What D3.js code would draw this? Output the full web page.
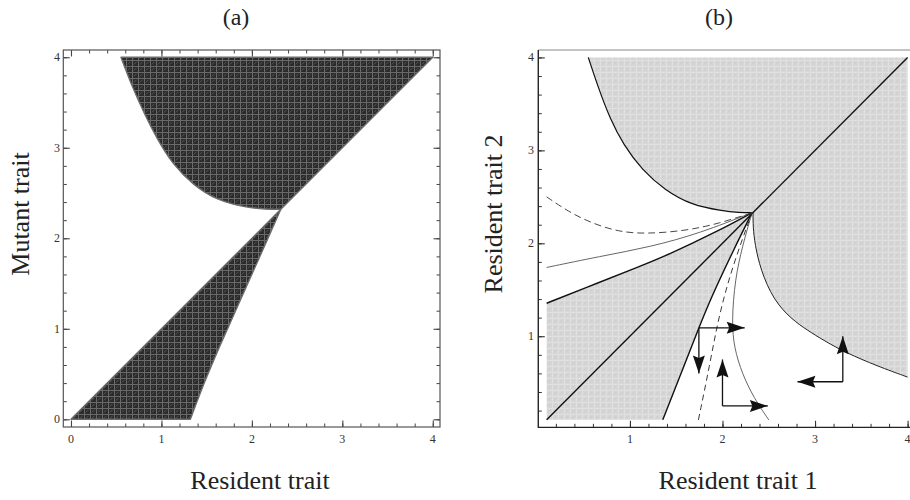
<!DOCTYPE html>
<html>
<head>
<meta charset="utf-8">
<script src="https://cdn.jsdelivr.net/npm/d3@7"></script>
<style>
  body { margin: 0; background: #fff; }
  svg { display: block; font-family: "Liberation Serif", "DejaVu Serif", serif; }
</style>
</head>
<body>
<div id="chart"></div>
<script>
// tick labels
const ticksA = [0, 1, 2, 3, 4];
const ticksB = [1, 2, 3, 4];

// (a) pairwise invasibility plot
const upperEdgeA = [[0.553, 4.0], [0.67, 3.69], [0.80, 3.40], [0.95, 3.10], [1.13, 2.81], [1.35, 2.59], [1.61, 2.42], [1.94, 2.34], [2.15, 2.32], [2.32, 2.32]];
const lowerEdgeA = [[1.32, 0], [1.47, 0.40], [1.64, 0.80], [1.82, 1.20], [2.00, 1.60], [2.16, 1.96], [2.32, 2.32]];

// (b) trait evolution plot
const upperEdgeB = [[0.55, 4.0], [0.66, 3.67], [0.785, 3.34], [0.93, 3.06], [1.13, 2.79], [1.38, 2.57], [1.67, 2.41], [1.99, 2.35], [2.18, 2.33], [2.33, 2.33]];
const rightEdgeB = [[2.33, 2.33], [2.33, 2.18], [2.35, 1.99], [2.41, 1.72], [2.55, 1.39], [2.75, 1.18], [2.91, 1.07], [3.10, 0.95], [3.34, 0.82], [3.67, 0.68], [4.0, 0.56]];
const sepLeftB = [[0.1, 1.355], [0.67, 1.58], [1.09, 1.745], [1.40, 1.87], [1.94, 2.125], [2.32, 2.33]];
const sepLowerB = [[1.355, 0.1], [1.58, 0.67], [1.745, 1.09], [1.87, 1.40], [2.125, 1.94], [2.32, 2.33]];
const diagB = [[0.1, 0.1], [4, 4]];
const thinLeftB = [[0.1, 1.74], [0.68, 1.86], [1.22, 1.96], [1.76, 2.11], [2.32, 2.33]];
const thinRightB = [[2.50, 0.1], [2.34, 0.335], [2.215, 0.59], [2.125, 0.875], [2.10, 1.16], [2.135, 1.61], [2.215, 1.97], [2.32, 2.33]];
const dashLeftB = [[0.1, 2.50], [0.335, 2.34], [0.59, 2.215], [0.875, 2.125], [1.16, 2.10], [1.61, 2.135], [1.97, 2.215], [2.32, 2.33]];
const dashLowerB = [[1.74, 0.1], [1.86, 0.68], [1.96, 1.22], [2.11, 1.76], [2.32, 2.33]];
// arrow pairs: corner, then the two arrow tips
const arrowCorners = [[1.745, 1.09], [2.0, 0.25], [3.30, 0.51]];
const arrowTipsH = [[2.24, 1.09], [2.49, 0.25], [2.81, 0.51]];
const arrowTipsV = [[1.745, 0.60], [2.0, 0.75], [3.30, 1.0]];

const W = 910, H = 500;
const svg = d3.select('#chart').append('svg').attr('width', W).attr('height', H);
const defs = svg.append('defs');

// dark texture for (a)
const pa = defs.append('pattern').attr('id', 'darkTex')
  .attr('width', 6).attr('height', 6).attr('patternUnits', 'userSpaceOnUse');
pa.append('rect').attr('width', 6).attr('height', 6).attr('fill', '#2b2b2b');
pa.append('path').attr('d', 'M0,0.5H6M0.5,0V6').attr('stroke', '#6a6a6a').attr('stroke-width', 1);
pa.append('path').attr('d', 'M1.8,4.5L4.5,1.8').attr('stroke', '#555').attr('stroke-width', 1);

// light texture for (b)
const pb = defs.append('pattern').attr('id', 'lightTex')
  .attr('width', 6).attr('height', 6).attr('patternUnits', 'userSpaceOnUse');
pb.append('rect').attr('width', 6).attr('height', 6).attr('fill', '#d6d6d6');
pb.append('path').attr('d', 'M0,0.5H6M0.5,0V6').attr('stroke', '#e0e0e0').attr('stroke-width', 1);
pb.append('path').attr('d', 'M1.8,4.5L4.5,1.8').attr('stroke', '#cbcbcb').attr('stroke-width', 1);

// ---------- panel (a)
const xA = d3.scaleLinear().domain([-0.085, 4.08]).range([63.3, 440]);
const yA = d3.scaleLinear().domain([-0.085, 4.08]).range([427, 50]);
const lineA = d3.line().x(d => xA(d[0])).y(d => yA(d[1])).curve(d3.curveBasis);
const gA = svg.append('g');

const upperRegionA = lineA(upperEdgeA) + 'L' + xA(4) + ',' + yA(4) + 'Z';
const lowerRegionA = 'M' + xA(0) + ',' + yA(0) + lineA(lowerEdgeA).replace(/^M/, 'L') + 'Z';
[upperRegionA, lowerRegionA].forEach(d => {
  gA.append('path').attr('d', d).attr('fill', 'url(#darkTex)')
    .attr('stroke', '#6c6c6c').attr('stroke-width', 1.4).attr('stroke-linejoin', 'round');
});

function frameTicks(g, x, y, ticks, sides, tickColor) {
  const minor = d3.range(0, 4.001, 0.2).filter(v => x.domain()[0] < v);
  const [x0, x1] = x.range(), [y0, y1] = y.range();
  sides.forEach(s => {
    let ax;
    if (s === 'bottom') ax = d3.axisTop(x);
    if (s === 'top') ax = d3.axisBottom(x);
    if (s === 'left') ax = d3.axisRight(y);
    if (s === 'right') ax = d3.axisLeft(y);
    ax.tickValues(minor).tickSize(3.5).tickFormat('');
    const t = { bottom: [0, y0], top: [0, y1], left: [x0, 0], right: [x1, 0] }[s];
    const gm = g.append('g').attr('transform', `translate(${t[0]},${t[1]})`).call(ax);
    gm.select('.domain').remove();
    gm.selectAll('line').attr('stroke', tickColor);
    ax.tickValues(ticks).tickSize(6.5);
    const gM = g.append('g').attr('transform', `translate(${t[0]},${t[1]})`).call(ax);
    gM.select('.domain').remove();
    gM.selectAll('line').attr('stroke', tickColor).attr('stroke-width', 1.1);
  });
}

frameTicks(gA, xA, yA, ticksA, ['bottom', 'top', 'left', 'right'], '#444');
gA.append('rect').attr('x', 63.3).attr('y', 50).attr('width', 440 - 63.3).attr('height', 427 - 50)
  .attr('fill', 'none').attr('stroke', '#555').attr('stroke-width', 1.2);

gA.selectAll('.xl').data(ticksA).enter().append('text')
  .attr('x', d => xA(d)).attr('y', 443).attr('text-anchor', 'middle')
  .attr('font-size', 12).attr('fill', '#333').text(d => d);
gA.selectAll('.yl').data(ticksA).enter().append('text')
  .attr('x', 60).attr('y', d => yA(d) + 4).attr('text-anchor', 'end')
  .attr('font-size', 12).attr('fill', '#333').text(d => d);

gA.append('text').attr('x', 236).attr('y', 25).attr('text-anchor', 'middle')
  .attr('font-size', 24).attr('fill', '#222').text('(a)');
gA.append('text').attr('x', 260).attr('y', 489).attr('text-anchor', 'middle')
  .attr('font-size', 26).attr('fill', '#222').text('Resident trait');
gA.append('text').attr('transform', 'translate(29,214) rotate(-90)').attr('text-anchor', 'middle')
  .attr('font-size', 26).attr('fill', '#222').text('Mutant trait');

// ---------- panel (b)
const xB = d3.scaleLinear().domain([0.01, 4.08]).range([538.3, 915]);
const yB = d3.scaleLinear().domain([0.02, 4.08]).range([427.3, 50]);
const lineB = d3.line().x(d => xB(d[0])).y(d => yB(d[1])).curve(d3.curveBasis);
const gB = svg.append('g');

const upperRegionB = lineB(upperEdgeB) + lineB(rightEdgeB).replace(/^M/, 'L') + 'L' + xB(4) + ',' + yB(4) + 'Z';
const lowerRegionB = 'M' + xB(0.1) + ',' + yB(0.1) + lineB(sepLowerB).replace(/^M/, 'L')
  + lineB(sepLeftB.slice().reverse()).replace(/^M/, 'L') + 'Z';
gB.append('path').attr('d', upperRegionB).attr('fill', 'url(#lightTex)');
gB.append('path').attr('d', lowerRegionB).attr('fill', 'url(#lightTex)');

frameTicks(gB, xB, yB, ticksB, ['bottom', 'left'], '#333');
gB.append('path').attr('d', `M${xB.range()[0]},${yB.range()[0]}V50H915`)
  .attr('fill', 'none').attr('stroke', '#888').attr('stroke-width', 1);
gB.append('path').attr('d', `M${xB.range()[0]},50V${yB.range()[0]}H915`)
  .attr('fill', 'none').attr('stroke', '#222').attr('stroke-width', 1.3);

const strokes = [
  [upperEdgeB, '#111', 1.2, null],
  [rightEdgeB, '#222', 1.0, null],
  [sepLeftB, '#111', 1.4, null],
  [sepLowerB, '#111', 1.4, null],
  [diagB, '#111', 1.4, null],
  [thinLeftB, '#555', 0.9, null],
  [thinRightB, '#555', 0.9, null],
  [dashLeftB, '#333', 0.9, '7,4'],
  [dashLowerB, '#222', 0.9, '6,4']
];
strokes.forEach(([pts, col, w, dash]) => {
  gB.append('path').attr('d', lineB(pts)).attr('fill', 'none')
    .attr('stroke', col).attr('stroke-width', w).attr('stroke-dasharray', dash);
});

// arrows
defs.append('marker').attr('id', 'head').attr('markerUnits', 'userSpaceOnUse')
  .attr('viewBox', '-19 -7 20 14').attr('refX', 0).attr('refY', 0)
  .attr('markerWidth', 20).attr('markerHeight', 14).attr('orient', 'auto')
  .append('path').attr('d', 'M0,0L-18,-6L-15.5,0L-18,6Z').attr('fill', '#111');

arrowCorners.forEach((c, i) => {
  [arrowTipsH[i], arrowTipsV[i]].forEach(t => {
    gB.append('line')
      .attr('x1', xB(c[0])).attr('y1', yB(c[1]))
      .attr('x2', xB(t[0])).attr('y2', yB(t[1]))
      .attr('stroke', '#111').attr('stroke-width', 1.3)
      .attr('marker-end', 'url(#head)');
  });
});

gB.selectAll('.xl').data(ticksB).enter().append('text')
  .attr('x', d => xB(d)).attr('y', 443).attr('text-anchor', 'middle')
  .attr('font-size', 12).attr('fill', '#333').text(d => d);
gB.selectAll('.yl').data(ticksB).enter().append('text')
  .attr('x', 534).attr('y', d => yB(d) + 4).attr('text-anchor', 'end')
  .attr('font-size', 12).attr('fill', '#333').text(d => d);

gB.append('text').attr('x', 719).attr('y', 25).attr('text-anchor', 'middle')
  .attr('font-size', 24).attr('fill', '#222').text('(b)');
gB.append('text').attr('x', 738).attr('y', 489).attr('text-anchor', 'middle')
  .attr('font-size', 26).attr('fill', '#222').text('Resident trait 1');
gB.append('text').attr('transform', 'translate(502,214) rotate(-90)').attr('text-anchor', 'middle')
  .attr('font-size', 26).attr('fill', '#222').text('Resident trait 2');
</script>
</body>
</html>
